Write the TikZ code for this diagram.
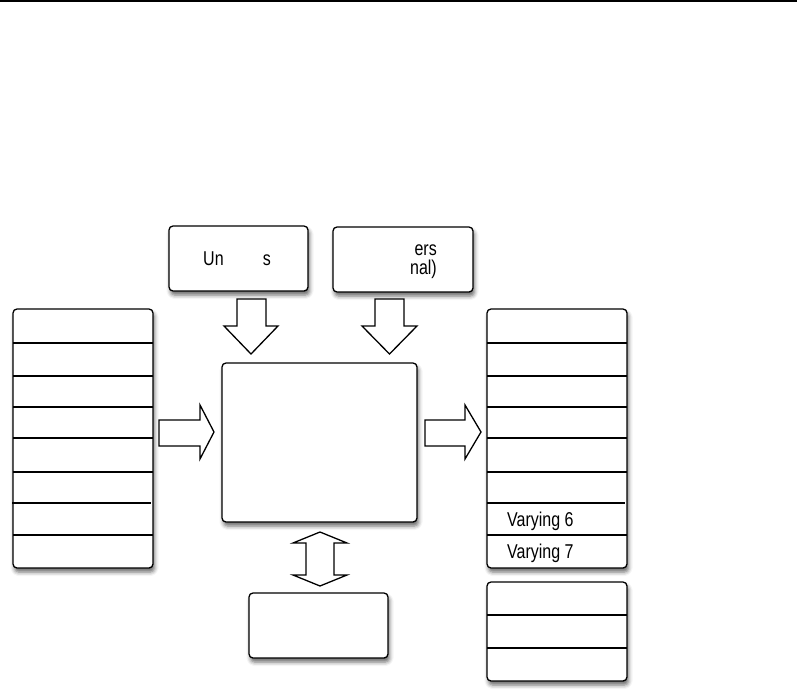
\documentclass[tikz,border=0pt]{standalone}
\usepackage{fontspec}
\setmainfont{Liberation Sans}
\usetikzlibrary{shadows.blur}
\newcommand{\narrowtxt}[1]{\scalebox{0.8}[1]{#1}}
\begin{document}
\begin{tikzpicture}[x=1pt,y=-1pt,
  box/.style={draw, line width=1.3pt, rounded corners=4pt, fill=white, anchor=north west,
    inner sep=0pt, outer sep=0pt,
    blur shadow={shadow xshift=1.5pt, shadow yshift=-4pt, shadow blur radius=4pt, shadow opacity=60}},
  thinrow/.style={line width=1.2pt},
  thickrow/.style={line width=2.2pt},
  blockarrow/.style={draw, line width=1.3pt, fill=white, line join=miter},
  lbl/.style={font=\fontsize{20}{23}\selectfont, inner sep=0pt, anchor=base west}
]
\useasboundingbox (0,0) rectangle (797,693);
\draw[line width=1.6pt] (0,1) -- (797,1);

% top boxes
\node[box, minimum width=139pt, minimum height=65pt] (unif) at (169,226) {};
\node[box, minimum width=140pt, minimum height=65pt] (samp) at (333,227) {};
\node[lbl] (unA) at (203,265) {\narrowtxt{Un}};
\node[lbl, anchor=base east] (unB) at (271,265) {\narrowtxt{s}};
\node[lbl, anchor=base east] (saA) at (437,255) {\narrowtxt{ers}};
\node[lbl, anchor=base east] (saB) at (437,274) {\narrowtxt{nal)}};

% main box
\node[box, minimum width=195pt, minimum height=159pt] (main) at (222,363) {};
% bottom box
\node[box, minimum width=139pt, minimum height=65pt] (bot) at (249,593) {};

% left stack
\node[box, minimum width=140pt, minimum height=259pt] (inL) at (13,309) {};
\draw[thickrow] (13,343) -- (153,343);
\draw[thinrow] (13,376) -- (153,376);
\draw[thinrow] (13,407) -- (153,407);
\draw[thickrow] (13,438) -- (153,438);
\draw[thinrow] (13,472) -- (153,472);
\draw[thinrow] (12,503) -- (151,503);
\draw[thinrow] (13,535) -- (153,535);

% right stack
\node[box, minimum width=140pt, minimum height=259pt] (outR) at (487,309) {};
\draw[thickrow] (487,343) -- (627,343);
\draw[thinrow] (487,376) -- (627,376);
\draw[thinrow] (487,407) -- (627,407);
\draw[thickrow] (487,438) -- (627,438);
\draw[thinrow] (487,472) -- (627,472);
\draw[thinrow] (487,503) -- (625,503);
\draw[thickrow] (487,535) -- (627,535);
\node[lbl] (v6) at (507,526) {\narrowtxt{Varying 6}};
\node[lbl] (v7) at (507,558) {\narrowtxt{Varying 7}};

% bottom right stack
\node[box, minimum width=140pt, minimum height=99pt] (outS) at (487,582) {};
\draw[thinrow] (487,615) -- (627,615);
\draw[thickrow] (487,648) -- (627,648);

% block arrows
\draw[blockarrow] (237,299) -- (266,299) -- (266,326) -- (278,326) -- (251,354) -- (224,326) -- (237,326) -- cycle;
\draw[blockarrow] (375,299) -- (404,299) -- (404,326) -- (417,326) -- (389.5,354) -- (362,326) -- (375,326) -- cycle;
\draw[blockarrow] (159,420) -- (200,420) -- (200,405) -- (214,432) -- (200,459) -- (200,446) -- (159,446) -- cycle;
\draw[blockarrow] (425,420) -- (465,420) -- (465,405) -- (481,432) -- (465,459) -- (465,446) -- (425,446) -- cycle;
\draw[blockarrow] (320,532) -- (347,543) -- (334,543) -- (334,575) -- (347,575) -- (320,586) -- (293,575) -- (306,575) -- (306,543) -- (293,543) -- cycle;
\end{tikzpicture}
\end{document}
